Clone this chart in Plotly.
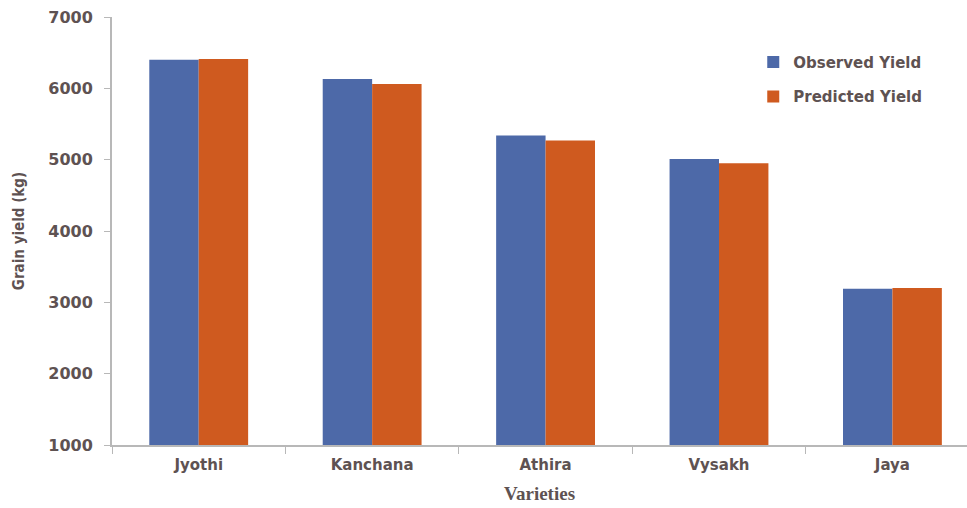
import plotly.graph_objects as go

# Grain yield of rice varieties: observed vs. model-predicted
varieties = ["Jyothi", "Kanchana", "Athira", "Vysakh", "Jaya"]
observed_yield = [6400, 6130, 5340, 5010, 3190]
predicted_yield = [6410, 6060, 5270, 4950, 3200]
y_ticks = [1000, 2000, 3000, 4000, 5000, 6000, 7000]

BLUE = "#4d69a8"
ORANGE = "#cf5a1f"
TEXT = "#5e5252"
AXIS = "#b8b8b8"

fig = go.Figure()
fig.add_trace(go.Bar(x=varieties, y=observed_yield, name="Observed Yield",
                     marker=dict(color=BLUE, line=dict(width=0)),
                     legendgroup="obs"))
fig.add_trace(go.Bar(x=varieties, y=predicted_yield, name="Predicted Yield",
                     marker=dict(color=ORANGE, line=dict(width=0)),
                     legendgroup="pred"))

fig.update_layout(
    width=967, height=508,
    margin=dict(l=112, r=0, t=17, b=63),
    paper_bgcolor="white", plot_bgcolor="white",
    barmode="group", bargap=0.43, bargroupgap=0,
    showlegend=True,
    legend=dict(x=0.75, y=0.933, xanchor="left", yanchor="top",
                font=dict(family="DejaVu Sans", size=15, color=TEXT, weight="bold"),
                tracegroupgap=12, bgcolor="rgba(0,0,0,0)"),
    xaxis=dict(range=[-0.5, 4.43], showline=True, linecolor=AXIS, linewidth=2,
               ticks="outside", tickson="boundaries", ticklen=7, tickcolor=AXIS,
               ticklabelstandoff=5,
               tickfont=dict(family="DejaVu Sans", size=15, color=TEXT, weight="bold"),
               title=dict(text="Varieties", standoff=14,
                          font=dict(family="Liberation Serif", size=19, color=TEXT, weight="bold")),
               showgrid=False, zeroline=False),
    yaxis=dict(range=[1000, 7000], tickvals=y_ticks, showline=True, linecolor=AXIS,
               linewidth=2, ticks="outside", ticklen=6, tickcolor=AXIS,
               ticklabelstandoff=8,
               tickfont=dict(family="DejaVu Sans", size=16, color=TEXT, weight="bold"),
               title=dict(text="Grain yield (kg)", standoff=20,
                          font=dict(family="DejaVu Sans Condensed, Liberation Sans Narrow, sans-serif",
                                    size=15, color=TEXT, weight="bold")),
               showgrid=False, zeroline=False),
)

fig.write_html("out.html")
